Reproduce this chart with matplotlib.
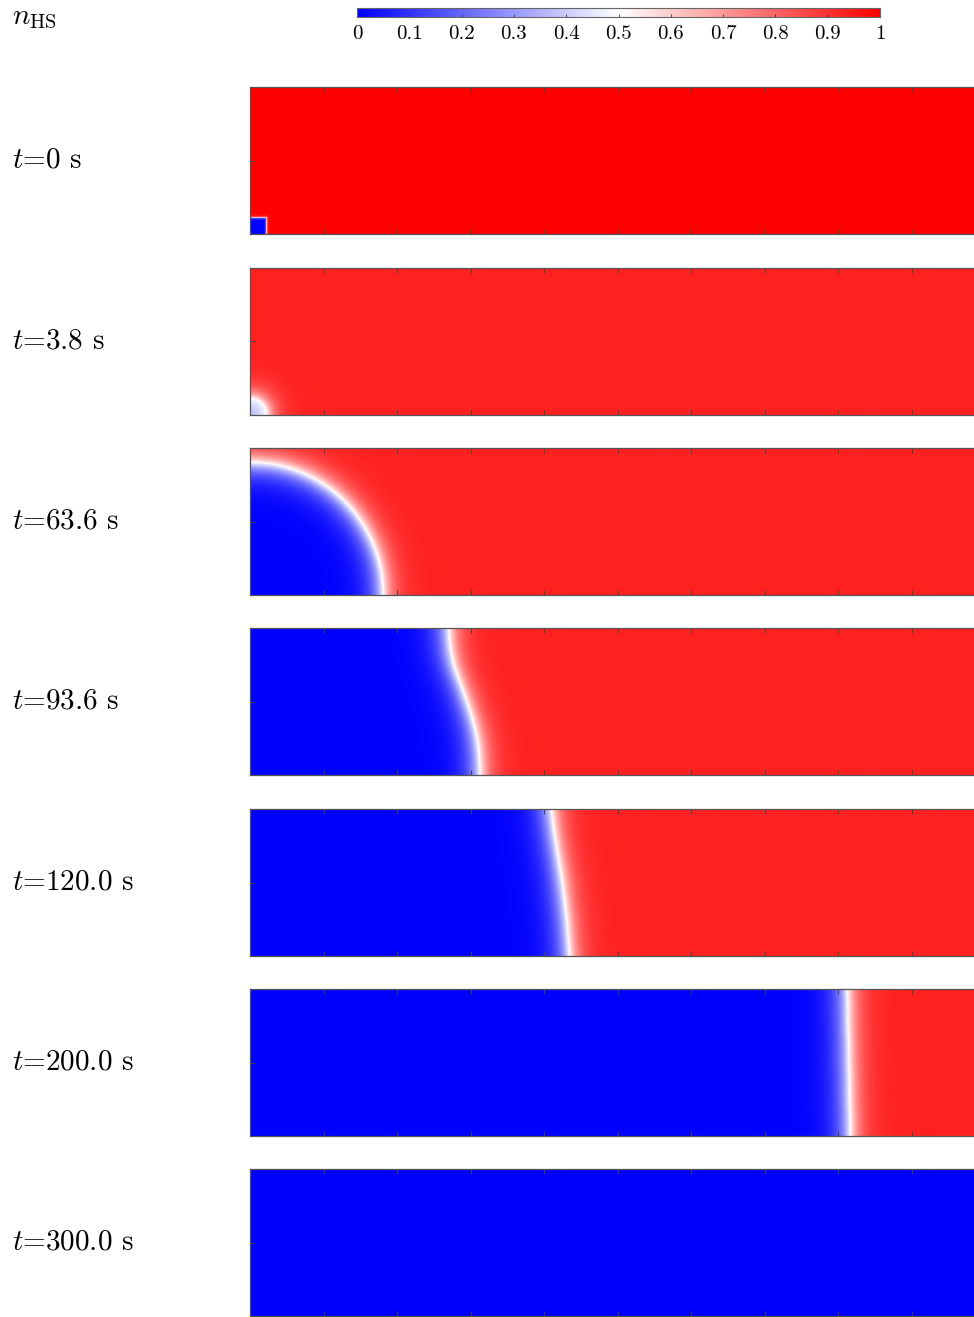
import numpy as np
import matplotlib
matplotlib.use("Agg")
import matplotlib.pyplot as plt
from matplotlib.colors import LinearSegmentedColormap

plt.rcParams['mathtext.fontset'] = 'cm'
plt.rcParams['font.family'] = 'cmr10'

# time labels of the seven snapshots
times = ["0", "3.8", "63.6", "93.6", "120.0", "200.0", "300.0"]

# HS fraction far from the front (HS side) and inside the LS domain
hs_level = [1.0, 0.935, 0.935, 0.935, 0.935, 0.935, 0.935]
ls_level = [0.0, 0.33, 0.0, 0.0, 0.0, 0.0, 0.0]

# front shapes (domain 10 x 2)
seed_size = 0.22          # t=0 square seed
radius_38 = 0.22          # t=3.8 quarter circle
radius_636 = 1.81         # t=63.6 quarter circle
front_y = [0.0, 0.25, 0.5, 0.75, 1.0, 1.25, 1.5, 1.75, 2.0]
front_x_936 = [3.13, 3.12, 3.09, 3.03, 2.95, 2.86, 2.77, 2.72, 2.70]
front_x_120 = [4.35, 4.33, 4.31, 4.28, 4.25, 4.21, 4.17, 4.13, 4.10]
front_x_200 = [8.17, 8.17, 8.16, 8.16, 8.15, 8.15, 8.14, 8.14, 8.13]

cbar_ticks = [0, 0.1, 0.2, 0.3, 0.4, 0.5, 0.6, 0.7, 0.8, 0.9, 1]

Lx, Ly = 10.0, 2.0
nx, ny = 1000, 200
x = np.linspace(0, Lx, nx)
y = np.linspace(0, Ly, ny)
X, Y = np.meshgrid(x, y)


def field(d, lo, hi, wl=0.16, wh=0.14):
    # d > 0 : HS side, d < 0 : LS side, white (0.5) on the front
    v = np.where(d >= 0,
                 hi - (hi - 0.5) * np.exp(-d / wh),
                 lo + (0.5 - lo) * np.exp(d / wl))
    return v


def front_dist(fx):
    xf = np.interp(Y[:, 0], front_y, fx)
    # smooth the piecewise-linear front a little
    k = 21
    pad = np.pad(xf, k // 2, mode='edge')
    xf = np.convolve(pad, np.ones(k) / k, mode='valid')
    return X - xf[:, None]


dists = [
    np.maximum(X - seed_size, Y - seed_size),
    np.hypot(X, Y) - radius_38,
    np.hypot(X, Y) - radius_636,
    front_dist(front_x_936),
    front_dist(front_x_120),
    front_dist(front_x_200),
    None,
]

cmap = LinearSegmentedColormap.from_list("bwr_pure", ["#0000ff", "#ffffff", "#ff0000"])

W, H = 974, 1317
fig = plt.figure(figsize=(W / 100, H / 100), dpi=100)

tops = [87, 268, 448, 628, 809, 989, 1169]
ph = 147
left = 250
unit = ph / Ly

for i, t in enumerate(times):
    ax = fig.add_axes([left / W, 1 - (tops[i] + ph) / H, Lx * unit / W, ph / H])
    d = dists[i]
    if d is None:
        v = np.full_like(X, ls_level[i])
    elif i == 0:
        v = field(d, ls_level[i], hs_level[i], 0.01, 0.01)
    elif i == 1:
        v = field(d, ls_level[i], hs_level[i], 0.15, 0.12)
    else:
        v = field(d, ls_level[i], hs_level[i])
    ax.imshow(v, origin='lower', extent=[0, Lx, 0, Ly], cmap=cmap,
              vmin=0, vmax=1, aspect='auto', interpolation='bilinear')
    ax.set_xlim(0, Lx)
    ax.set_ylim(0, Ly)
    ax.set_xticks(np.arange(0, 11, 1))
    ax.set_yticks([0, 1, 2])
    ax.tick_params(direction='in', length=3.5, width=0.7, color='#444444',
                   top=True, bottom=True, left=True, right=True,
                   labelbottom=False, labelleft=False)
    for s in ax.spines.values():
        s.set_color('#555555')
        s.set_linewidth(0.9)
    fig.text(12 / W, 1 - (tops[i] + ph / 2) / H, r"$t$=" + t + " s",
             fontsize=21, va='center', ha='left')

fig.text(12 / W, 1 - 18 / H, r"$n_{\mathrm{HS}}$", fontsize=21,
         va='center', ha='left')

cax = fig.add_axes([357 / W, 1 - 17 / H, (880 - 357) / W, 9 / H])
grad = np.linspace(0, 1, 512).reshape(1, -1)
cax.imshow(grad, extent=[0, 1, 0, 1], aspect='auto', cmap=cmap, vmin=0, vmax=1)
cax.set_xlim(0, 1)
cax.set_ylim(0, 1)
cax.set_yticks([])
cax.set_xticks(cbar_ticks)
cax.set_xticklabels([f"{v:g}" for v in cbar_ticks])
cax.tick_params(axis='x', direction='in', length=2.5, width=0.6, color='#333333',
                labelsize=15, pad=6)
for s in cax.spines.values():
    s.set_color('#666666')
    s.set_linewidth(0.8)

fig.savefig("out.png", dpi=100)
